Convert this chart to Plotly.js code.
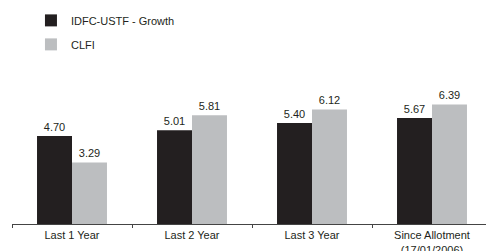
<!DOCTYPE html>
<html><head><meta charset="utf-8">
<script src="https://cdn.plot.ly/plotly-3.0.1.min.js"></script>
<style>html,body{margin:0;padding:0;background:#fff}#c{width:486px;height:251px}</style>
</head><body><div id="c"></div>
<script>
const categories = ["Last 1 Year", "Last 2 Year", "Last 3 Year", "Since Allotment<br>(17/01/2006)"];
const fundName = "IDFC-USTF - Growth";
const benchName = "CLFI";
const fundValues = [4.70, 5.01, 5.40, 5.67];
const benchValues = [3.29, 5.81, 6.12, 6.39];
const fundLabels = ["4.70", "5.01", "5.40", "5.67"];
const benchLabels = ["3.29", "5.81", "6.12", "6.39"];

const font = "Liberation Sans, Arial, sans-serif";
const data = [
  {type:"bar", name:fundName, legendgroup:"a", x:categories, y:fundValues, text:fundLabels, textposition:"outside",
   marker:{color:"#231f20"}, textfont:{family:font,size:11,color:"#231f20"}, cliponaxis:false, hoverinfo:"none"},
  {type:"bar", name:benchName, legendgroup:"b", x:categories, y:benchValues, text:benchLabels, textposition:"outside",
   marker:{color:"#bcbec0"}, textfont:{family:font,size:11,color:"#231f20"}, cliponaxis:false, hoverinfo:"none"}
];
const layout = {
  width:486, height:251,
  margin:{l:12, r:0, t:93, b:27},
  paper_bgcolor:"#fff", plot_bgcolor:"#fff",
  font:{family:font, size:11, color:"#231f20"},
  barmode:"group", bargap:0.417, bargroupgap:0,
  xaxis:{range:[-0.5,3.45], showline:true, linecolor:"#444", linewidth:1, ticks:"outside", ticklen:3,
         tickcolor:"#444", tickson:"boundaries", showgrid:false, zeroline:false, fixedrange:true,
         ticklabelstandoff:1,
         tickfont:{family:font,size:11,color:"#231f20"}},
  yaxis:{range:[0,7], visible:false, fixedrange:true},
  showlegend:true,
  legend:{x:0.04, xanchor:"left", y:1.665, yanchor:"top", traceorder:"grouped",
          font:{family:font,size:11,color:"#231f20"}, bgcolor:"rgba(0,0,0,0)", tracegroupgap:5}
};
Plotly.newPlot("c", data, layout, {displayModeBar:false, staticPlot:true});
</script></body></html>
